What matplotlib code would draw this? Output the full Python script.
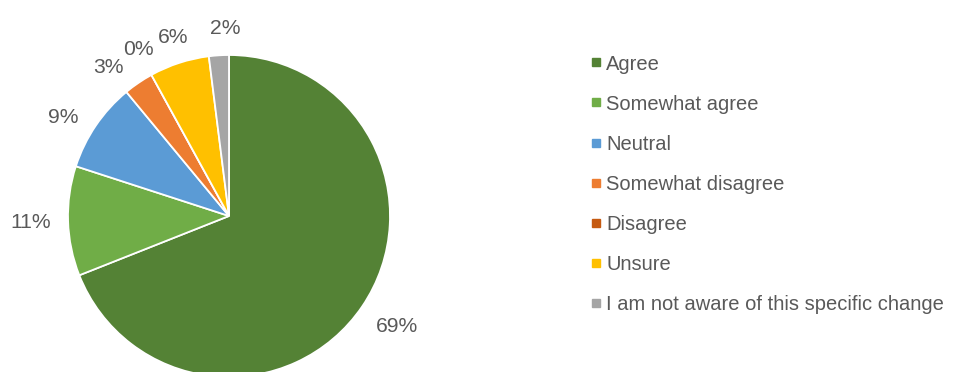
import numpy as np
import matplotlib.pyplot as plt
from matplotlib.lines import Line2D

plt.rcParams['font.family'] = ['Liberation Sans', 'DejaVu Sans']

# Survey responses (percent)
categories = ["Agree", "Somewhat agree", "Neutral", "Somewhat disagree",
              "Disagree", "Unsure", "I am not aware of this specific change"]
shares = [69, 11, 9, 3, 0, 6, 2]
colors = ["#548235", "#70AD47", "#5B9BD5", "#ED7D31",
          "#C55A11", "#FFC000", "#A5A5A5"]

# label placement: distance from centre (in radii) and angular nudge (deg)
label_dist = [1.25, 1.23, 1.20, 1.19, 1.18, 1.165, 1.163]
label_nudge = [1.0, 0, 3.4, 4.9, -0.3, -0.6, -2.4]

text_color = "#595959"

fig = plt.figure(figsize=(9.63, 3.72), dpi=100)
W, H = 963, 372

# pie centred at (229, 216) px, radius 161 px
cx, cy, r = 229, 216, 161
ax = fig.add_axes([(cx - r) / W, (H - cy - r) / H, 2 * r / W, 2 * r / H])

wedges, texts, autotexts = ax.pie(
    shares, colors=colors, startangle=90, counterclock=False,
    autopct="%.0f%%", pctdistance=1.2, radius=1,
    wedgeprops=dict(edgecolor="white", linewidth=1.3),
    textprops=dict(color=text_color, fontsize=15.2))
ax.set_xlim(-1, 1)
ax.set_ylim(-1, 1)
for w in wedges:
    w.set_clip_on(False)

# move the percentage labels off the rim, spread where slices are thin
for w, t, d, nudge in zip(wedges, autotexts, label_dist, label_nudge):
    mid = np.deg2rad((w.theta1 + w.theta2) / 2 + nudge)
    t.set_position((d * np.cos(mid), d * np.sin(mid)))
    t.set_ha("center")
    t.set_va("center")

handles = [Line2D([], [], marker="s", linestyle="none", markersize=5.1,
                  markerfacecolor=c, markeredgecolor=c) for c in colors]
fig.legend(handles, categories, loc="upper left",
           bbox_to_anchor=(592 / W, 1 - 54.5 / H), frameon=False,
           fontsize=14.5, labelcolor=text_color, handlelength=0.4,
           handletextpad=0.3, labelspacing=1.045, borderaxespad=0,
           borderpad=0)

fig.savefig("out.png", dpi=100)
